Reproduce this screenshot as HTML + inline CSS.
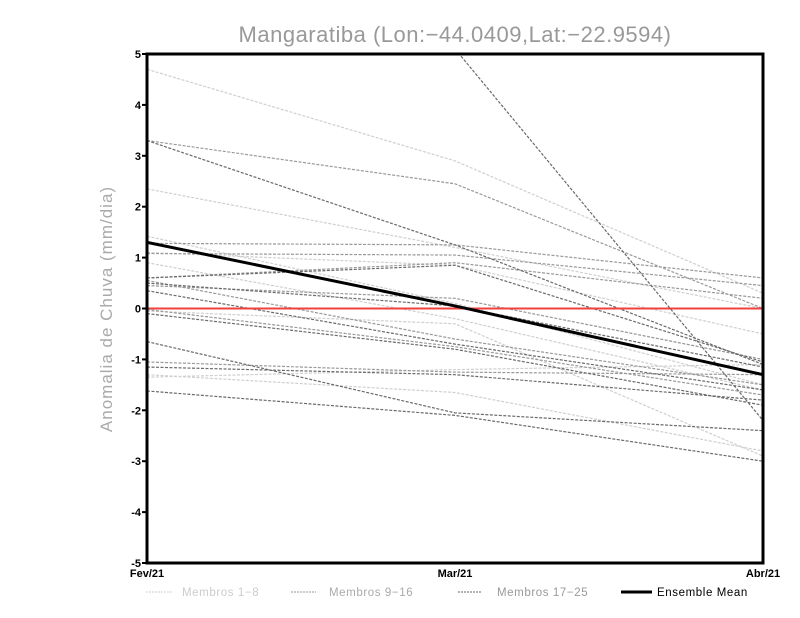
<!DOCTYPE html>
<html><head><meta charset="utf-8"><style>
body{margin:0;background:#fff;}
svg{display:block;font-family:"Liberation Sans",sans-serif;}
</style></head><body>
<svg id="c" width="800" height="618">
<text x="455" y="42" text-anchor="middle" font-size="22" fill="#999" letter-spacing="0.5">Mangaratiba (Lon:−44.0409,Lat:−22.9594)</text>
<text transform="translate(112,309) rotate(-90)" text-anchor="middle" font-size="17" fill="#aaa" letter-spacing="1">Anomalia de Chuva (mm/dia)</text>
<defs><clipPath id="pc"><rect x="147" y="54" width="616" height="509"/></clipPath></defs>
<g id="lines" clip-path="url(#pc)"></g>
<rect x="147" y="54" width="616" height="509" fill="none" stroke="#000" stroke-width="3"/>
<g id="ticks"></g>
<g id="legend" font-size="11.5" letter-spacing="0.6">
<line x1="146" y1="592" x2="172" y2="592" stroke="#ccc" stroke-dasharray="2,1"/>
<text x="182" y="596" fill="#ccc">Membros 1−8</text>
<line x1="291" y1="592" x2="316" y2="592" stroke="#999" stroke-dasharray="2,1"/>
<text x="329" y="596" fill="#aaa">Membros 9−16</text>
<line x1="458" y1="592" x2="482" y2="592" stroke="#666" stroke-dasharray="2,1"/>
<text x="497" y="596" fill="#999">Membros 17−25</text>
<line x1="621" y1="592" x2="652" y2="592" stroke="#000" stroke-width="3"/>
<text x="657" y="596" fill="#000">Ensemble Mean</text>
</g>
</svg>
<script>
const categories=["Fev/21","Mar/21","Abr/21"];
const yTicks=[-5,-4,-3,-2,-1,0,1,2,3,4,5];
const membersLight=[[4.7,2.9,0.3],[2.35,1.2,0.0],[1.42,0.1,-1.5],[0.9,-0.2,-1.6],[1.1,0.85,-0.5],[-1.3,-1.65,-2.8],[-1.35,-1.2,-1.1],[-0.05,-0.3,-2.9]];
const membersMid=[[3.3,2.45,0.0],[1.28,1.25,0.6],[0.6,0.9,0.2],[0.45,0.2,-1.0],[-0.02,-0.75,-1.7],[-1.05,-1.25,-1.3],[1.08,1.05,0.45],[0.55,-0.6,-1.5]];
const membersDark=[[3.3,1.25,-1.1],[0.6,0.85,-1.05],[0.35,-0.7,-1.6],[-0.65,-2.05,-2.4],[-1.15,-1.3,-1.8],[-1.62,-2.1,-3.0],[8.0,5.1,-2.2],[0.5,0.05,-1.15],[-0.1,-0.8,-1.9]];
const ensembleMean=[1.3,0.05,-1.3];
const X0=147,X1=763,Y0=563,Y1=54;
const xs=i=>X0+(X1-X0)*i/(categories.length-1);
const ys=v=>Y0-(v+5)/10*(Y0-Y1);
const NS="http://www.w3.org/2000/svg";
const g=document.getElementById('lines');
function poly(vals,color,w,dash,name){
  const p=document.createElementNS(NS,'polyline');
  p.setAttribute('points',vals.map((v,i)=>xs(i)+','+ys(v)).join(' '));
  p.setAttribute('fill','none');p.setAttribute('stroke',color);p.setAttribute('stroke-width',w);
  if(dash)p.setAttribute('stroke-dasharray',dash);
  
  
  g.appendChild(p);
}
membersLight.forEach((s,i)=>poly(s,'#cfcfcf',1.2,'3,1.5','member-'+(i+1)));
membersMid.forEach((s,i)=>poly(s,'#999',1.2,'3,1.5','member-'+(i+9)));
membersDark.forEach((s,i)=>poly(s,'#6a6a6a',1.2,'3,1.5','member-'+(i+17)));
const z=document.createElementNS(NS,'line');
z.setAttribute('x1',X0);z.setAttribute('x2',X1);z.setAttribute('y1',ys(0));z.setAttribute('y2',ys(0));
z.setAttribute('stroke','#f04040');z.setAttribute('stroke-width',2);


g.appendChild(z);
poly(ensembleMean,'#000',3,null,'ensemble-mean-line');
const t=document.getElementById('ticks');
yTicks.forEach(v=>{
  const l=document.createElementNS(NS,'line');
  l.setAttribute('x1',X0-5);l.setAttribute('x2',X0);l.setAttribute('y1',ys(v));l.setAttribute('y2',ys(v));
  l.setAttribute('stroke','#000');l.setAttribute('stroke-width',2);
  
  
  t.appendChild(l);
  const tx=document.createElementNS(NS,'text');
  tx.setAttribute('x',X0-6);tx.setAttribute('y',ys(v)+4);tx.setAttribute('text-anchor','end');
  tx.setAttribute('font-size','11');tx.setAttribute('font-weight','bold');
  tx.textContent=v<0?'-'+Math.abs(v):String(v);
  
  
  t.appendChild(tx);
});
categories.forEach((c,i)=>{
  const tx=document.createElementNS(NS,'text');
  tx.setAttribute('x',xs(i));tx.setAttribute('y',577);
  tx.setAttribute('text-anchor','middle');
  tx.setAttribute('font-size','11');tx.setAttribute('font-weight','bold');
  tx.textContent=c;
  
  
  t.appendChild(tx);
});
</script>
</body></html>
